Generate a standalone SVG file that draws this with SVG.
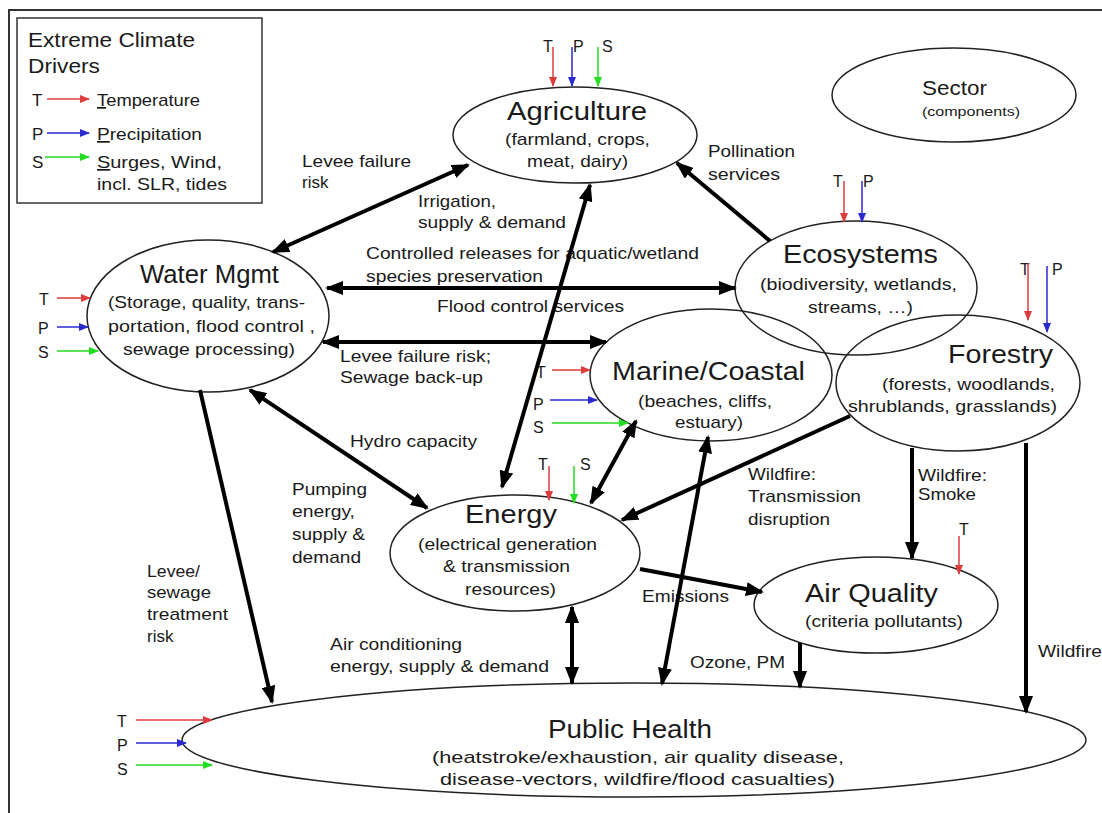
<svg xmlns="http://www.w3.org/2000/svg" width="1102" height="813" viewBox="0 0 1102 813">
<style>
text{font-family:"Liberation Sans",Arial,Helvetica,sans-serif;fill:#1a1a1a}
.h{font-size:25px}
.s{font-size:17px}
.l{font-size:16px}
.sm{font-size:13px}
.node{fill:none;stroke:#222;stroke-width:1.5}
.c{fill:none;stroke:#000;stroke-width:4}
.cs{marker-end:url(#ah)}
.cd{marker-start:url(#ah);marker-end:url(#ah)}
.r{stroke:#dc3c3c;stroke-width:1.5;marker-end:url(#ar)}
.b{stroke:#2a2ad2;stroke-width:1.5;marker-end:url(#ab)}
.g{stroke:#22dd22;stroke-width:1.5;marker-end:url(#ag)}
</style>
<defs>
<marker id="ah" markerUnits="userSpaceOnUse" viewBox="0 0 18 14" markerWidth="18" markerHeight="14" refX="16" refY="7" orient="auto-start-reverse"><path d="M0,0 L18,7 L0,14 z" fill="#000"/></marker>
<marker id="ar" markerUnits="userSpaceOnUse" viewBox="0 0 10 8" markerWidth="10" markerHeight="8" refX="9" refY="4" orient="auto"><path d="M0,0 L10,4 L0,8 z" fill="#dc3c3c"/></marker>
<marker id="ab" markerUnits="userSpaceOnUse" viewBox="0 0 10 8" markerWidth="10" markerHeight="8" refX="9" refY="4" orient="auto"><path d="M0,0 L10,4 L0,8 z" fill="#2a2ad2"/></marker>
<marker id="ag" markerUnits="userSpaceOnUse" viewBox="0 0 10 8" markerWidth="10" markerHeight="8" refX="9" refY="4" orient="auto"><path d="M0,0 L10,4 L0,8 z" fill="#22dd22"/></marker>
</defs>
<rect width="1102" height="813" fill="#fff"/>
<path d="M9,813 V10 H1102" fill="none" stroke="#333" stroke-width="2"/>

<g id="legend">
<rect x="17" y="18" width="245" height="185" fill="#fff" stroke="#333" stroke-width="1.5"/>
<text x="28" y="47" style="font-size:20px" textLength="167" lengthAdjust="spacingAndGlyphs">Extreme Climate</text>
<text x="28" y="73" style="font-size:20px" textLength="72" lengthAdjust="spacingAndGlyphs">Drivers</text>
<text x="32" y="106" class="s">T</text>
<line x1="47" y1="99" x2="89" y2="99" class="r"/>
<text x="97" y="106" class="s" textLength="103" lengthAdjust="spacingAndGlyphs"><tspan text-decoration="underline">T</tspan>emperature</text>
<text x="32" y="140" class="s">P</text>
<line x1="47" y1="133" x2="89" y2="133" class="b"/>
<text x="97" y="140" class="s" textLength="105" lengthAdjust="spacingAndGlyphs"><tspan text-decoration="underline">P</tspan>recipitation</text>
<text x="32" y="168" class="s">S</text>
<line x1="45" y1="157" x2="89" y2="157" class="g"/>
<text x="97" y="168" class="s" textLength="125" lengthAdjust="spacingAndGlyphs"><tspan text-decoration="underline">S</tspan>urges, Wind,</text>
<text x="97" y="190" class="s" textLength="130" lengthAdjust="spacingAndGlyphs">incl. SLR, tides</text>
</g>

<g id="sector">
<ellipse cx="954" cy="95" rx="122" ry="47" class="node"/>
<text x="922" y="95" style="font-size:20px" textLength="65" lengthAdjust="spacingAndGlyphs">Sector</text>
<text x="922" y="116" class="sm" textLength="98" lengthAdjust="spacingAndGlyphs">(components)</text>
</g>

<g id="agriculture">
<ellipse cx="575" cy="135" rx="122" ry="48" class="node"/>
<text x="507" y="120" class="h" textLength="140" lengthAdjust="spacingAndGlyphs">Agriculture</text>
<text x="505" y="145" class="s" textLength="145" lengthAdjust="spacingAndGlyphs">(farmland, crops,</text>
<text x="527" y="167" class="s" textLength="101" lengthAdjust="spacingAndGlyphs">meat, dairy)</text>
<text x="543" y="52" class="l">T</text>
<text x="573" y="52" class="l">P</text>
<text x="602" y="52" class="l">S</text>
<line x1="553" y1="47" x2="553" y2="86" class="r"/>
<line x1="572" y1="47" x2="572" y2="86" class="b"/>
<line x1="598" y1="47" x2="598" y2="86" class="g"/>
</g>

<g id="water">
<ellipse cx="208" cy="316" rx="121" ry="76" class="node"/>
<text x="140" y="283" class="h" textLength="139" lengthAdjust="spacingAndGlyphs">Water Mgmt</text>
<text x="108" y="308" class="s" textLength="197" lengthAdjust="spacingAndGlyphs">(Storage, quality, trans-</text>
<text x="108" y="332" class="s" textLength="207" lengthAdjust="spacingAndGlyphs">portation, flood control ,</text>
<text x="123" y="355" class="s" textLength="172" lengthAdjust="spacingAndGlyphs">sewage processing)</text>
<text x="39" y="305" class="l">T</text>
<text x="38" y="334" class="l">P</text>
<text x="38" y="358" class="l">S</text>
<line x1="57" y1="298" x2="90" y2="298" class="r"/>
<line x1="57" y1="327" x2="88" y2="327" class="b"/>
<line x1="57" y1="351" x2="98" y2="351" class="g"/>
</g>

<g id="ecosystems">
<ellipse cx="856" cy="288" rx="121" ry="67" class="node"/>
<text x="783" y="263" class="h" textLength="155" lengthAdjust="spacingAndGlyphs">Ecosystems</text>
<text x="760" y="290" class="s" textLength="197" lengthAdjust="spacingAndGlyphs">(biodiversity, wetlands,</text>
<text x="808" y="313" class="s" textLength="105" lengthAdjust="spacingAndGlyphs">streams, …)</text>
<text x="833" y="187" class="l">T</text>
<text x="863" y="187" class="l">P</text>
<line x1="844" y1="181" x2="844" y2="222" class="r"/>
<line x1="862" y1="181" x2="862" y2="222" class="b"/>
</g>

<g id="forestry">
<ellipse cx="958" cy="383" rx="122" ry="68" class="node"/>
<text x="948" y="363" class="h" textLength="105" lengthAdjust="spacingAndGlyphs">Forestry</text>
<text x="882" y="390" class="s" textLength="173" lengthAdjust="spacingAndGlyphs">(forests, woodlands,</text>
<text x="848" y="412" class="s" textLength="209" lengthAdjust="spacingAndGlyphs">shrublands, grasslands)</text>
<text x="1020" y="275" class="l">T</text>
<text x="1052" y="275" class="l">P</text>
<line x1="1028" y1="263" x2="1028" y2="320" class="r"/>
<line x1="1047" y1="266" x2="1047" y2="332" class="b"/>
</g>

<g id="marine">
<ellipse cx="711" cy="375" rx="121" ry="66" class="node"/>
<text x="612" y="380" class="h" textLength="193" lengthAdjust="spacingAndGlyphs">Marine/Coastal</text>
<text x="638" y="407" class="s" textLength="134" lengthAdjust="spacingAndGlyphs">(beaches, cliffs,</text>
<text x="675" y="428" class="s" textLength="68" lengthAdjust="spacingAndGlyphs">estuary)</text>
<text x="536" y="378" class="l">T</text>
<text x="533" y="410" class="l">P</text>
<text x="533" y="433" class="l">S</text>
<line x1="552" y1="370" x2="590" y2="370" class="r"/>
<line x1="550" y1="400" x2="597" y2="400" class="b"/>
<line x1="552" y1="423" x2="628" y2="423" class="g"/>
</g>

<g id="energy">
<ellipse cx="515" cy="553" rx="125" ry="58" class="node"/>
<text x="465" y="523" class="h" textLength="92" lengthAdjust="spacingAndGlyphs">Energy</text>
<text x="418" y="550" class="s" textLength="179" lengthAdjust="spacingAndGlyphs">(electrical generation</text>
<text x="443" y="572" class="s" textLength="127" lengthAdjust="spacingAndGlyphs">&amp; transmission</text>
<text x="465" y="595" class="s" textLength="91" lengthAdjust="spacingAndGlyphs">resources)</text>
<text x="538" y="470" class="l">T</text>
<text x="580" y="470" class="l">S</text>
<line x1="549" y1="466" x2="549" y2="500" class="r"/>
<line x1="574" y1="466" x2="574" y2="503" class="g"/>
</g>

<g id="airquality">
<ellipse cx="876" cy="605" rx="122" ry="48" class="node"/>
<text x="805" y="602" class="h" textLength="133" lengthAdjust="spacingAndGlyphs">Air Quality</text>
<text x="805" y="627" class="s" textLength="158" lengthAdjust="spacingAndGlyphs">(criteria pollutants)</text>
<text x="959" y="535" class="l">T</text>
<line x1="959" y1="536" x2="959" y2="574" class="r"/>
</g>

<g id="publichealth">
<ellipse cx="634" cy="740" rx="452" ry="57" class="node"/>
<text x="548" y="738" style="font-size:26px" textLength="164" lengthAdjust="spacingAndGlyphs">Public Health</text>
<text x="432" y="763" class="s" textLength="412" lengthAdjust="spacingAndGlyphs">(heatstroke/exhaustion, air quality disease,</text>
<text x="440" y="785" class="s" textLength="395" lengthAdjust="spacingAndGlyphs">disease-vectors, wildfire/flood casualties)</text>
<text x="117" y="727" class="l">T</text>
<text x="117" y="751" class="l">P</text>
<text x="117" y="775" class="l">S</text>
<line x1="136" y1="720" x2="212" y2="720" class="r"/>
<line x1="136" y1="743" x2="186" y2="743" class="b"/>
<line x1="136" y1="765" x2="212" y2="765" class="g"/>
</g>

<g id="labels">
<text x="302" y="167" class="s" textLength="109" lengthAdjust="spacingAndGlyphs">Levee failure</text>
<text x="302" y="188" class="s">risk</text>
<text x="418" y="207" class="s" textLength="78" lengthAdjust="spacingAndGlyphs">Irrigation,</text>
<text x="418" y="228" class="s" textLength="148" lengthAdjust="spacingAndGlyphs">supply &amp; demand</text>
<text x="708" y="157" class="s" textLength="87" lengthAdjust="spacingAndGlyphs">Pollination</text>
<text x="708" y="180" class="s" textLength="72" lengthAdjust="spacingAndGlyphs">services</text>
<text x="366" y="259" class="s" textLength="333" lengthAdjust="spacingAndGlyphs">Controlled releases for aquatic/wetland</text>
<text x="366" y="282" class="s" textLength="177" lengthAdjust="spacingAndGlyphs">species preservation</text>
<text x="437" y="312" class="s" textLength="187" lengthAdjust="spacingAndGlyphs">Flood control services</text>
<text x="340" y="362" class="s" textLength="151" lengthAdjust="spacingAndGlyphs">Levee failure risk;</text>
<text x="340" y="383" class="s" textLength="143" lengthAdjust="spacingAndGlyphs">Sewage back-up</text>
<text x="350" y="447" class="s" textLength="127" lengthAdjust="spacingAndGlyphs">Hydro capacity</text>
<text x="292" y="495" class="s" textLength="75" lengthAdjust="spacingAndGlyphs">Pumping</text>
<text x="292" y="517" class="s" textLength="63" lengthAdjust="spacingAndGlyphs">energy,</text>
<text x="292" y="540" class="s" textLength="73" lengthAdjust="spacingAndGlyphs">supply &amp;</text>
<text x="292" y="563" class="s" textLength="69" lengthAdjust="spacingAndGlyphs">demand</text>
<text x="147" y="577" class="s" textLength="53" lengthAdjust="spacingAndGlyphs">Levee/</text>
<text x="147" y="598" class="s" textLength="64" lengthAdjust="spacingAndGlyphs">sewage</text>
<text x="147" y="620" class="s" textLength="81" lengthAdjust="spacingAndGlyphs">treatment</text>
<text x="147" y="642" class="s">risk</text>
<text x="748" y="480" class="s" textLength="68" lengthAdjust="spacingAndGlyphs">Wildfire:</text>
<text x="748" y="502" class="s" textLength="113" lengthAdjust="spacingAndGlyphs">Transmission</text>
<text x="748" y="525" class="s" textLength="82" lengthAdjust="spacingAndGlyphs">disruption</text>
<text x="918" y="481" class="s" textLength="69" lengthAdjust="spacingAndGlyphs">Wildfire:</text>
<text x="918" y="500" class="s" textLength="58" lengthAdjust="spacingAndGlyphs">Smoke</text>
<text x="642" y="602" class="s" textLength="87" lengthAdjust="spacingAndGlyphs">Emissions</text>
<text x="690" y="668" class="s" textLength="95" lengthAdjust="spacingAndGlyphs">Ozone, PM</text>
<text x="1038" y="657" class="s" textLength="64" lengthAdjust="spacingAndGlyphs">Wildfire</text>
<text x="330" y="650" class="s" textLength="132" lengthAdjust="spacingAndGlyphs">Air conditioning</text>
<text x="330" y="672" class="s" textLength="219" lengthAdjust="spacingAndGlyphs">energy, supply &amp; demand</text>
</g>

<g id="connectors">
<line x1="273" y1="252" x2="468" y2="165" class="c cd"/>
<line x1="770" y1="241" x2="677" y2="163" class="c cs"/>
<line x1="590" y1="185" x2="502" y2="487" class="c cd"/>
<line x1="327" y1="288" x2="735" y2="288" class="c cd"/>
<line x1="323" y1="342" x2="606" y2="342" class="c cd"/>
<line x1="250" y1="390" x2="427" y2="508" class="c cd"/>
<line x1="636" y1="421" x2="591" y2="503" class="c cd"/>
<line x1="708" y1="437" x2="662" y2="684" class="c cd"/>
<line x1="850" y1="416" x2="622" y2="520" class="c cs"/>
<line x1="912" y1="448" x2="912" y2="558" class="c cs"/>
<line x1="1026" y1="443" x2="1026" y2="712" class="c cs"/>
<line x1="640" y1="569" x2="762" y2="592" class="c cs"/>
<line x1="800" y1="643" x2="800" y2="687" class="c cs"/>
<line x1="572" y1="607" x2="572" y2="683" class="c cd"/>
<line x1="200" y1="390" x2="272" y2="702" class="c cs"/>
</g>
</svg>
